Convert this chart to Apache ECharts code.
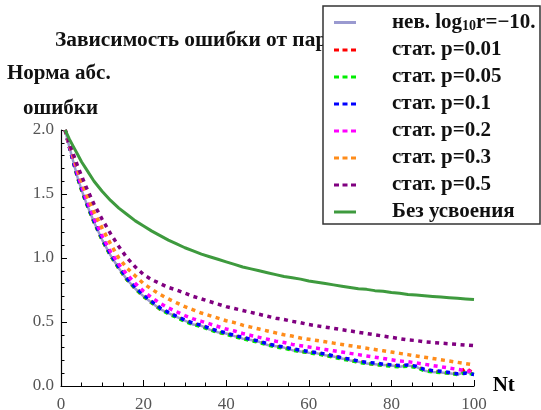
<!DOCTYPE html>
<html><head><meta charset="utf-8">
<script src="https://cdn.jsdelivr.net/npm/echarts@6/dist/echarts.min.js"></script>
<style>html,body{margin:0;padding:0;background:#fff}#c{width:541px;height:410px}</style>
</head><body><div id="c"></div>
<script>
const nt = [1,2,3,4,5,6,8,10,12,14,16,18,20,22,24,26,28,30,32,34,36,38,40,42,44,46,48,50,52,54,56,58,60,62,64,66,68,70,72,74,76,78,80,82,84,86,88,90,92,94,96,98,100];
const nev = [2.00,1.87,1.75,1.63,1.53,1.44,1.28,1.14,1.02,0.92,0.83,0.76,0.70,0.65,0.60,0.57,0.54,0.51,0.48,0.47,0.44,0.42,0.41,0.39,0.37,0.36,0.345,0.32,0.31,0.30,0.28,0.27,0.26,0.255,0.24,0.23,0.215,0.20,0.19,0.175,0.17,0.165,0.16,0.15,0.16,0.15,0.12,0.11,0.105,0.10,0.09,0.11,0.09];
const p001 = [2.00,1.87,1.75,1.63,1.53,1.44,1.28,1.14,1.02,0.92,0.83,0.76,0.70,0.65,0.60,0.57,0.54,0.51,0.485,0.47,0.445,0.42,0.41,0.39,0.375,0.36,0.345,0.325,0.31,0.30,0.285,0.27,0.265,0.255,0.24,0.23,0.22,0.20,0.19,0.18,0.17,0.165,0.16,0.155,0.16,0.15,0.125,0.115,0.11,0.10,0.095,0.14,0.095];
const p005 = [2.00,1.87,1.75,1.63,1.53,1.44,1.28,1.14,1.02,0.92,0.83,0.76,0.70,0.65,0.60,0.565,0.535,0.505,0.48,0.465,0.44,0.42,0.405,0.385,0.37,0.355,0.34,0.32,0.305,0.295,0.28,0.27,0.26,0.25,0.24,0.225,0.21,0.20,0.185,0.175,0.17,0.16,0.155,0.15,0.155,0.145,0.12,0.11,0.105,0.10,0.09,0.105,0.09];
const p01 = [2.00,1.87,1.75,1.64,1.54,1.45,1.29,1.15,1.03,0.93,0.84,0.77,0.71,0.66,0.61,0.575,0.545,0.515,0.49,0.475,0.45,0.43,0.415,0.395,0.38,0.365,0.35,0.33,0.315,0.305,0.29,0.28,0.27,0.26,0.25,0.235,0.22,0.21,0.195,0.185,0.18,0.17,0.165,0.16,0.165,0.155,0.13,0.12,0.115,0.105,0.095,0.10,0.09];
const p02 = [2.00,1.88,1.77,1.66,1.56,1.47,1.31,1.17,1.05,0.95,0.87,0.80,0.74,0.69,0.645,0.61,0.58,0.55,0.525,0.505,0.485,0.465,0.445,0.43,0.41,0.395,0.38,0.365,0.35,0.34,0.325,0.315,0.305,0.295,0.285,0.275,0.265,0.255,0.245,0.235,0.225,0.215,0.205,0.195,0.19,0.18,0.17,0.16,0.15,0.14,0.13,0.12,0.11];
const p03 = [2.00,1.89,1.79,1.69,1.60,1.51,1.36,1.23,1.11,1.00,0.92,0.86,0.80,0.755,0.715,0.68,0.65,0.62,0.595,0.57,0.55,0.53,0.51,0.495,0.475,0.46,0.445,0.43,0.415,0.40,0.39,0.375,0.365,0.355,0.345,0.335,0.325,0.315,0.305,0.295,0.285,0.275,0.265,0.255,0.245,0.235,0.225,0.215,0.205,0.195,0.185,0.175,0.165];
const p05 = [2.00,1.90,1.81,1.72,1.64,1.56,1.42,1.30,1.19,1.09,1.00,0.93,0.87,0.83,0.80,0.77,0.75,0.725,0.70,0.68,0.66,0.64,0.62,0.605,0.59,0.575,0.56,0.545,0.53,0.52,0.505,0.495,0.48,0.47,0.46,0.45,0.44,0.43,0.42,0.41,0.40,0.39,0.38,0.37,0.36,0.355,0.345,0.34,0.335,0.33,0.325,0.32,0.315];
const noAssim = [2.00,1.93,1.87,1.81,1.75,1.70,1.60,1.52,1.45,1.39,1.34,1.29,1.25,1.21,1.175,1.14,1.11,1.08,1.055,1.03,1.01,0.99,0.97,0.95,0.93,0.915,0.90,0.885,0.87,0.855,0.845,0.835,0.82,0.81,0.80,0.79,0.78,0.77,0.76,0.755,0.745,0.74,0.73,0.725,0.715,0.71,0.705,0.70,0.695,0.69,0.685,0.68,0.675];
const names = ['нев. log10r=−10.','стат. p=0.01','стат. p=0.05','стат. p=0.1','стат. p=0.2','стат. p=0.3','стат. p=0.5','Без усвоения'];
const xTicks = [0,20,40,60,80,100];
const yTicks = [0.0,0.5,1.0,1.5,2.0];

const serif = '"Liberation Serif","DejaVu Serif",serif';
const solidIcon = 'path://M0,0H22V3H0Z';
const dotIcon = 'path://M0,0H5V3H0Z M8.5,0H13.5V3H8.5Z M17,0H22V3H17Z';
const pairs = a => nt.map((x,i)=>[x,a[i]]);
const dotted = (name, data, color) => ({
  name, type:'line', data:pairs(data), symbol:'none', smooth:false,
  lineStyle:{color, width:3.5, type:[4,4.5], cap:'butt'}, itemStyle:{color}
});
const chart = echarts.init(document.getElementById('c'), null, {renderer:'canvas'});
chart.setOption({
  animation:false,
  grid:{left:61, right:67, top:130, bottom:24, containLabel:false, outerBoundsMode:'none'},
  xAxis:{type:'value', min:xTicks[0], max:xTicks[xTicks.length-1], interval:20,
    name:'Nt', nameLocation:'end', nameGap:15,
    nameTextStyle:{fontFamily:serif, fontWeight:'bold', fontSize:21, color:'#000', verticalAlign:'middle', lineHeight:26},
    axisLine:{onZero:false, lineStyle:{color:'#000', width:1.2}},
    axisTick:{inside:true, length:6, lineStyle:{color:'#000'}},
    minorTick:{show:true, splitNumber:4, length:3.5, lineStyle:{color:'#000'}},
    splitLine:{show:false},
    axisLabel:{fontFamily:serif, fontSize:17, color:'#555', margin:10}},
  yAxis:{type:'value', min:yTicks[0], max:yTicks[yTicks.length-1], interval:0.5,
    axisLine:{show:true, lineStyle:{color:'#000', width:1.2}},
    axisTick:{show:true, inside:true, length:6, lineStyle:{color:'#000'}},
    minorTick:{show:true, splitNumber:5, length:3.5, lineStyle:{color:'#000'}},
    splitLine:{show:false},
    axisLabel:{fontFamily:serif, fontSize:17, color:'#555', margin:7, formatter:v=>v.toFixed(1)}},
  legend:{show:true, orient:'vertical', left:329, top:7, itemWidth:22, itemHeight:3, itemGap:6,
    z:20,
    data:names.map((n,i)=>({name:n, icon:(i===0||i===7)?solidIcon:dotIcon})),
    formatter:n=> n.startsWith('нев') ? '{sp|}{b|нев. log}{s|10}{b|r=−10.}' : '{sp|}{b|'+n+'}',
    textStyle:{rich:{
      sp:{width:31, lineHeight:22},
      b:{fontFamily:serif, fontWeight:'bold', fontSize:21, lineHeight:22, color:'#111'},
      s:{fontFamily:serif, fontWeight:'bold', fontSize:14, lineHeight:14, verticalAlign:'bottom', color:'#111'}
    }}},
  graphic:[
    {type:'text', left:55, top:30, z:1, style:{text:'Зависимость ошибки от параметров', font:'bold 21.4px '+serif, fill:'#111'}},
    {type:'text', left:7, top:63, z:1, style:{text:'Норма абс.', font:'bold 21px '+serif, fill:'#111'}},
    {type:'text', left:23, top:98, z:1, style:{text:'ошибки', font:'bold 21px '+serif, fill:'#111'}},
    {type:'rect', shape:{x:323, y:6, width:217, height:218}, z:15, style:{fill:'#fff', stroke:'#333', lineWidth:1.5}}
  ],
  series:[
    {name:names[0], type:'line', data:pairs(nev), symbol:'none', lineStyle:{color:'#9a9ad0', width:2.5}, itemStyle:{color:'#9a9ad0'}},
    dotted(names[1], p001, '#ff0000'),
    dotted(names[2], p005, '#00ee00'),
    dotted(names[3], p01, '#0000ff'),
    dotted(names[4], p02, '#ff00ff'),
    dotted(names[5], p03, '#ff8c1a'),
    dotted(names[6], p05, '#800080'),
    {name:names[7], type:'line', data:pairs(noAssim), symbol:'none', lineStyle:{color:'#3e9a3e', width:3}, itemStyle:{color:'#3e9a3e'}}
  ]
});
</script></body></html>
